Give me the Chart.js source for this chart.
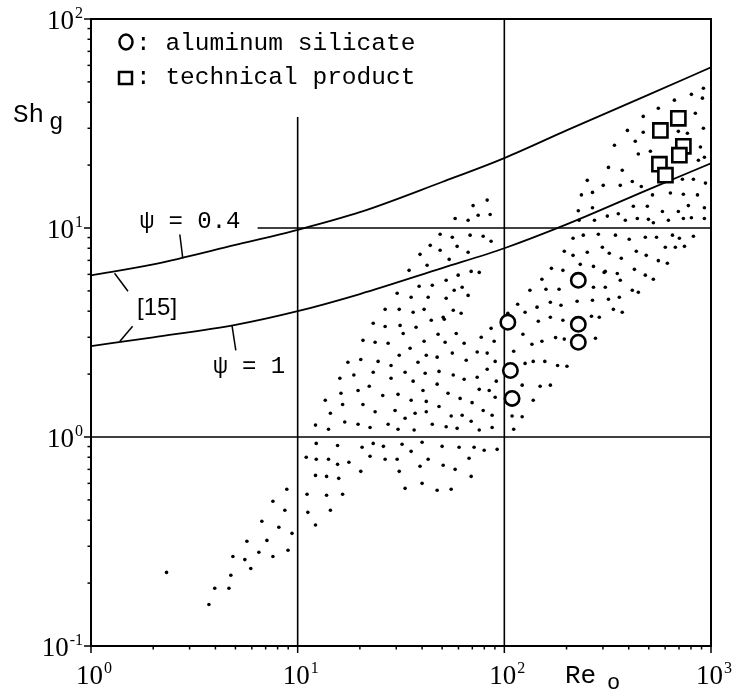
<!DOCTYPE html>
<html><head><meta charset="utf-8">
<script src="https://cdn.jsdelivr.net/npm/chart.js@4/dist/chart.umd.min.js"></script>
<style>html,body{margin:0;padding:0;background:#fff;overflow:hidden}</style>
</head><body>
<canvas id="c" width="737" height="692"></canvas>
<script>
// ---- axis ticks ----
const reTicks = [1, 10, 100, 1000];
const reTickExp = ['0', '1', '2', '3'];
const shTicks = [0.1, 1, 10, 100];
const shTickExp = ['-1', '0', '1', '2'];

// ---- correlation curves [15] ----
const curveRe = [1, 2, 5, 10, 20, 50, 100, 200, 500, 1000];
const shPsi04 = [5.93, 6.7, 8.3, 9.8, 11.9, 16.6, 21.6, 29.3, 43.5, 58.7];
const shPsi1 = [2.72, 3.0, 3.44, 4.0, 4.83, 6.43, 8.0, 10.4, 15.3, 20.4];

// ---- measured points ----
const aluRe = [104, 107, 109, 228, 228, 228];
const aluSh = [3.54, 2.08, 1.53, 5.62, 3.46, 2.84];
const techRe = [695, 569, 735, 703, 563, 602];
const techSh = [33.5, 29.3, 24.6, 22.3, 20.2, 17.9];

// ---- stippled literature band ----
const bandRe = [
  3.72, 3.97, 4.65, 4.75, 4.86, 5.55, 5.93, 5.68, 6.49, 7.10, 7.59, 6.71, 8.11, 8.98, 7.59, 8.67, 9.39, 8.86, 2.32,
  12.3, 15.6, 20.5, 23.2, 26.0, 11.0, 12.3, 14.1, 15.6, 17.7, 22.4, 26.5, 30.3, 12.2, 13.8, 15.8, 20.2, 31.0, 11.1, 13.8, 16.5, 11.2, 14.4, 12.2,
  32.0, 35.4, 40.0, 50.0, 60.4, 71.4, 79.9, 92.3, 42.8, 50.6, 57.8, 67.5, 39.1, 69.1, 40.0, 33.1, 47.3, 55.3,
  30.3, 26.5, 31.0, 23.2, 26.5, 31.3, 20.7, 23.7, 27.4, 17.5, 20.2, 24.5, 28.3, 31.0, 16.0, 18.7, 23.2, 28.3, 16.2, 19.6, 22.2, 25.8, 30.6, 13.6, 16.5, 20.7, 14.4, 23.7, 29.6, 12.2, 14.1, 16.9, 19.6, 22.4, 27.4, 30.6,
  48.9, 56.0, 68.3, 79.0, 86.3, 43.8, 59.1, 48.9, 66.8, 39.1, 54.1, 42.3, 34.6, 69.1, 75.6, 59.8, 52.3, 38.7, 44.8, 57.2, 62.5, 35.4, 42.8, 52.3, 66.8, 36.2, 40.9, 56.6, 61.8, 50.6,
  82.6, 70.6, 74.7, 85.4, 57.8, 66.8,
  44.3, 51.2, 32.4, 37.4, 47.8, 58.5, 40.9, 51.7, 63.9, 77.3, 86.3, 89.3, 35.0, 41.9, 47.3, 56.0, 65.4, 73.9, 82.6, 90.3, 38.2, 33.1, 41.4, 48.3, 56.6, 63.9, 73.9, 82.6, 91.4, 36.2, 47.3, 40.4, 53.4, 61.1, 69.8, 75.6, 84.5, 90.3, 35.4, 41.9, 48.3, 37.0, 41.9, 55.3, 62.5, 79.0, 87.3, 33.1, 44.8, 52.3, 59.1, 69.1, 75.6, 87.3, 36.6,
  252, 301, 236, 267, 228, 267, 230, 273, 215, 241, 285, 195, 215, 252, 298, 169, 192, 233, 270, 304, 152, 159, 184, 270, 133, 116, 144, 167, 188, 225, 267, 126, 146, 167, 192, 264, 288, 123, 136, 152, 177, 195, 276, 104, 111, 126, 138, 157, 181, 201, 122, 149, 167, 138, 109, 122, 111,
  919, 804, 909, 665, 556, 470, 840, 919, 394, 470, 695, 769, 430, 341, 889, 445, 509, 929, 319, 372, 869, 364, 416, 460, 822, 940, 735, 860, 521, 636, 727,
  421, 492, 777, 929, 356, 582, 695, 315, 385, 440, 498, 526, 622, 735, 804, 929, 345, 402, 481, 545, 651, 703, 822, 601, 672, 744, 322, 435, 486, 368, 556, 615, 308, 426, 352, 481, 526, 364, 308, 416, 445, 319, 360, 337, 372
];
const bandSh = [
  0.158, 0.189, 0.189, 0.218, 0.268, 0.259, 0.235, 0.317, 0.281, 0.320, 0.268, 0.395, 0.370, 0.287, 0.493, 0.446, 0.346, 0.562, 0.225,
  0.932, 0.911, 0.893, 0.932, 0.902, 0.800, 0.782, 0.782, 0.740, 0.757, 0.809, 0.782, 0.782, 0.655, 0.648, 0.634, 0.685, 0.685, 0.532, 0.526, 0.532, 0.436, 0.446, 0.379,
  0.923, 0.854, 0.944, 0.902, 0.893, 0.893, 0.864, 0.873, 0.782, 0.732, 0.700, 0.791, 0.724, 0.648, 0.600, 0.568, 0.556, 0.562,
  4.87, 4.08, 4.08, 3.50, 3.38, 3.42, 2.90, 2.84, 2.81, 2.28, 2.35, 2.30, 2.20, 2.46, 1.91, 1.98, 2.04, 1.91, 1.62, 1.67, 1.75, 1.58, 1.60, 1.50, 1.43, 1.43, 1.30, 1.32, 1.34, 1.14, 1.09, 1.18, 1.15, 1.11, 1.15, 1.09,
  9.33, 9.03, 9.24, 9.13, 8.64, 8.26, 8.17, 7.82, 7.65, 7.48, 7.08, 6.63, 6.27, 6.20, 6.13, 5.95, 5.62, 5.26, 5.32, 5.04, 5.21, 4.66, 4.66, 4.61, 4.76, 3.95, 4.08, 4.04, 3.91, 3.74,
  13.6, 12.8, 11.5, 11.6, 11.1, 10.9,
  3.62, 3.66, 3.13, 3.35, 3.10, 3.13, 2.87, 2.84, 2.81, 3.00, 3.31, 2.87, 2.66, 2.46, 2.41, 2.52, 2.33, 2.55, 2.52, 2.30, 2.28, 2.04, 2.02, 2.06, 1.98, 1.89, 1.93, 2.11, 1.85, 1.85, 1.79, 1.67, 1.62, 1.53, 1.46, 1.69, 1.67, 1.55, 1.50, 1.48, 1.40, 1.30, 1.32, 1.26, 1.27, 1.34, 1.27, 1.23, 1.15, 1.12, 1.10, 1.19, 1.08, 1.11, 1.08,
  16.9, 16.0, 14.4, 14.8, 12.1, 12.5, 10.9, 10.9, 8.93, 9.24, 9.34, 7.74, 7.40, 7.65, 8.09, 6.41, 6.27, 6.70, 6.55, 6.13, 5.69, 5.09, 5.09, 5.21, 5.04, 4.32, 4.18, 4.41, 4.27, 4.46, 4.51, 3.95, 3.58, 3.74, 3.62, 3.78, 3.74, 3.10, 2.78, 2.87, 2.99, 2.94, 2.97, 3.91, 2.57, 2.25, 2.30, 2.30, 2.20, 2.18, 1.77, 1.75, 1.77, 1.50, 1.26, 1.25, 1.09,
  46.6, 43.6, 41.8, 40.9, 37.4, 34.2, 35.4, 30.0, 29.3, 28.7, 29.0, 28.4, 26.0, 24.9, 24.4, 22.6, 23.3, 21.8, 19.5, 18.9, 21.1, 16.0, 16.7, 15.8, 17.1, 16.4, 14.5, 14.4, 14.4, 14.7, 17.1,
  12.7, 12.7, 12.8, 12.5, 11.7, 12.0, 12.0, 11.4, 10.9, 11.1, 11.0, 10.6, 10.9, 11.1, 11.2, 11.1, 9.24, 8.83, 9.03, 9.03, 9.24, 8.93, 9.13, 8.09, 8.09, 8.17, 7.57, 7.74, 7.40, 7.16, 6.98, 6.78, 6.20, 6.34, 6.06, 5.95, 5.69, 5.62, 5.21, 5.04, 4.93, 4.56, 4.66, 4.08, 3.95
];

// ---- curve annotations (anchored in data coordinates) ----
const noteTexts = ['\u03C8 = 0.4', '[15]', '\u03C8 = 1'];
const noteRe = [1.72, 1.67, 3.90];
const noteSh = [10.0, 3.82, 2.02];
const leaderRe = [[2.69, 2.78], [1.51, 1.30], [1.59, 1.38], [4.81, 5.02]];
const leaderSh = [[9.31, 7.16], [4.98, 6.07], [3.39, 2.87], [3.42, 2.60]];

const pts = (xs, ys) => xs.map((v, i) => ({x: v, y: ys[i]}));

function seg(ctx, x1, y1, x2, y2) {
  ctx.beginPath(); ctx.moveTo(x1, y1); ctx.lineTo(x2, y2); ctx.stroke();
}

const decor = {
  id: 'decor',
  beforeDatasetsDraw(chart) {
    const {ctx} = chart;
    const X = v => chart.scales.x.getPixelForValue(v);
    const Y = v => chart.scales.y.getPixelForValue(v);
    ctx.save();
    ctx.strokeStyle = '#000';
    ctx.lineWidth = 1.6;
    seg(ctx, X(10), Y(0.1), X(10), Y(34));
    seg(ctx, X(100), Y(0.1), X(100), Y(100));
    seg(ctx, X(6.4), Y(10), X(1000), Y(10));
    seg(ctx, X(1), Y(1), X(1000), Y(1));
    ctx.restore();
  },
  afterDatasetsDraw(chart) {
    const {ctx, chartArea: a} = chart;
    const X = v => chart.scales.x.getPixelForValue(v);
    const Y = v => chart.scales.y.getPixelForValue(v);
    ctx.save();
    ctx.strokeStyle = '#000';
    ctx.fillStyle = '#000';
    // frame
    ctx.lineWidth = 2;
    ctx.strokeRect(a.left, a.top, a.right - a.left, a.bottom - a.top);
    // ticks
    ctx.lineWidth = 1.5;
    shTicks.forEach((v, i) => {
      seg(ctx, a.left - 7, Y(v), a.left, Y(v));
      if (i < shTicks.length - 1) for (let m = 2; m < 10; m++) seg(ctx, a.left - 3.5, Y(v * m), a.left, Y(v * m));
    });
    reTicks.forEach((v, i) => {
      seg(ctx, X(v), a.bottom, X(v), a.bottom + 7);
      if (i < reTicks.length - 1) for (let m = 2; m < 10; m++) seg(ctx, X(v * m), a.bottom, X(v * m), a.bottom + 3.5);
    });
    // tick labels
    const big = '27px "Liberation Serif"', small = '16px "Liberation Serif"';
    ctx.textBaseline = 'alphabetic';
    ctx.textAlign = 'left';
    shTicks.forEach((v, i) => {
      ctx.font = big; const w10 = ctx.measureText('10').width;
      ctx.font = small; const we = ctx.measureText(shTickExp[i]).width;
      const x0 = a.left - 8 - w10 - we - 1, b = Y(v) + 10;
      ctx.font = big; ctx.fillText('10', x0, b);
      ctx.font = small; ctx.fillText(shTickExp[i], x0 + w10 + 1, b - 11);
    });
    reTicks.forEach((v, i) => {
      ctx.font = big; const w10 = ctx.measureText('10').width;
      const x0 = X(v) - 15, b = a.bottom + 38;
      ctx.fillText('10', x0, b);
      ctx.font = small; ctx.fillText(reTickExp[i], x0 + w10 + 1, b - 11);
    });
    // axis titles
    ctx.font = '26px "Liberation Mono"';
    ctx.fillText('Sh', 13, 122);
    ctx.font = '24px "Liberation Mono"';
    ctx.fillText('g', 49, 129);
    ctx.font = '26px "Liberation Mono"';
    ctx.fillText('Re', 565, 683);
    ctx.font = '22px "Liberation Mono"';
    ctx.fillText('o', 607, 689);
    // legend
    const ds = chart.data.datasets;
    ctx.lineWidth = 2.5;
    ctx.beginPath(); ctx.ellipse(a.left + 35, a.top + 23, 6.5, 7.5, 0, 0, Math.PI * 2); ctx.stroke();
    ctx.strokeRect(a.left + 28, a.top + 53, 13, 12);
    ctx.font = '24.5px "Liberation Mono"';
    ctx.fillText(': ' + ds[0].label, a.left + 45, a.top + 31);
    ctx.fillText(': ' + ds[1].label, a.left + 45, a.top + 65);
    // curve annotations
    ctx.lineWidth = 1.5;
    leaderRe.forEach((r, i) => seg(ctx, X(r[0]), Y(leaderSh[i][0]), X(r[1]), Y(leaderSh[i][1])));
    noteTexts.forEach((t, i) => {
      ctx.font = t === '[15]' ? '24px "Liberation Sans"' : '24px "Liberation Mono"';
      ctx.fillText(t, X(noteRe[i]), Y(noteSh[i]));
    });
    ctx.restore();
  }
};

new Chart(document.getElementById('c'), {
  type: 'scatter',
  data: {
    datasets: [
      {label: 'aluminum silicate', data: pts(aluRe, aluSh), pointStyle: 'circle', pointRadius: 7.2,
       borderWidth: 2.6, borderColor: '#000', backgroundColor: '#fff', order: 0},
      {label: 'technical product', data: pts(techRe, techSh), pointStyle: 'rect', pointRadius: 10,
       borderWidth: 2.6, borderColor: '#000', backgroundColor: '#fff', order: 1},
      {label: 'psi = 0.4', data: pts(curveRe, shPsi04), showLine: true, pointRadius: 0, borderWidth: 1.8,
       borderColor: '#000', cubicInterpolationMode: 'monotone', fill: false, order: 2},
      {label: 'psi = 1', data: pts(curveRe, shPsi1), showLine: true, pointRadius: 0, borderWidth: 1.8,
       borderColor: '#000', cubicInterpolationMode: 'monotone', fill: false, order: 3},
      {label: 'band', data: pts(bandRe, bandSh), pointStyle: 'circle', pointRadius: 1.8, borderWidth: 0,
       backgroundColor: '#000', borderColor: '#000', order: 4}
    ]
  },
  options: {
    responsive: false,
    animation: false,
    devicePixelRatio: 1,
    layout: {padding: {left: 91, right: 26, top: 19, bottom: 46}},
    plugins: {legend: {display: false}, tooltip: {enabled: false}},
    scales: {
      x: {type: 'logarithmic', min: 1, max: 1000, display: false},
      y: {type: 'logarithmic', min: 0.1, max: 100, display: false}
    }
  },
  plugins: [decor]
});
</script>
</body></html>
